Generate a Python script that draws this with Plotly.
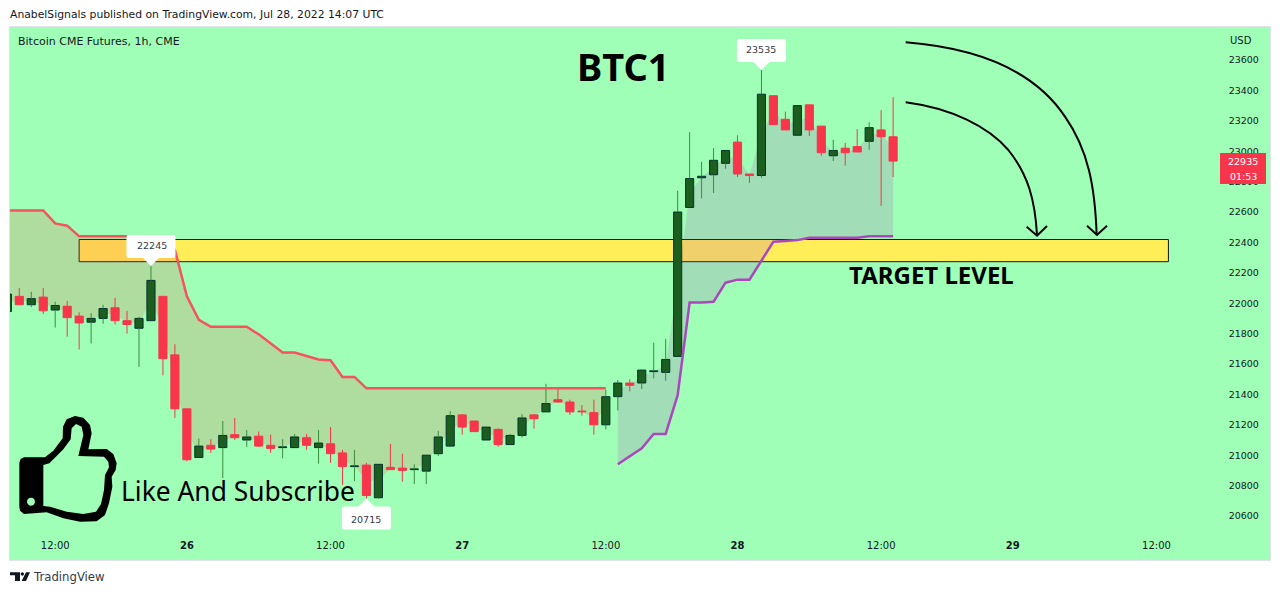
import numpy as np
import plotly.graph_objects as go

# ---------- data ----------
opens = [21945,22045,21990,22040,21955,21980,21915,21875,21900,21970,21885,21835,21885,22045,21660,21305,20985,21065,21050,21135,21100,21125,21065,21050,21050,21115,21050,21075,21015,20925,20935,20720,20920,20915,20905,20895,21010,21060,21265,21225,21100,21170,21070,21130,21265,21285,21365,21350,21290,21280,21200,21385,21475,21475,21550,21545,21650,22630,22825,22845,22920,23060,22850,22840,23365,23210,23105,23305,23165,22970,23020,23030,23065,23140,23095]
highs = [22085,22100,22075,22100,22010,22015,21940,21935,21990,22035,21950,21910,22245,22045,21730,21305,21110,21105,21225,21245,21165,21155,21135,21105,21140,21140,21165,21185,21035,21035,20950,20940,21075,21010,20940,21000,21160,21290,21270,21225,21185,21175,21140,21270,21270,21470,21435,21365,21330,21365,21430,21495,21500,21560,21740,21765,22740,23125,22930,23020,23005,23105,22850,23535,23365,23260,23300,23305,23165,23075,23055,23145,23190,23270,23355]
lows = [21930,21990,21975,21930,21840,21780,21695,21735,21865,21860,21800,21580,21885,21525,21245,20960,20985,21015,20850,21100,21055,21055,21015,20980,21050,21035,20945,20950,20805,20830,20715,20715,20905,20825,20810,20810,20995,21060,21135,21155,21100,21055,21070,21115,21175,21285,21345,21265,21260,21135,21170,21295,21420,21435,21505,21490,21650,22630,22690,22725,22885,22830,22790,22825,23175,23140,23105,23100,22970,22935,22905,22995,23010,22640,22830]
closes = [22060,21990,22030,21950,21985,21905,21870,21900,21965,21885,21860,21900,22150,21635,21305,20970,21060,21040,21130,21115,21120,21060,21045,21055,21120,21065,21080,21010,20925,20930,20735,20940,20905,20900,20910,21000,21120,21260,21185,21155,21185,21070,21130,21245,21240,21340,21350,21285,21285,21200,21385,21475,21460,21560,21555,21630,22600,22820,22835,22940,23005,22850,22840,23375,23175,23140,23300,23140,22990,23005,22990,22995,23155,23095,22935]
candle_x = list(range(-1, 74))

upper_line = [22610,22610,22610,22610,22525,22510,22440,22440,22440,22440,22440,22440,22440,22440,22350,22045,21890,21845,21845,21845,21845,21795,21735,21675,21675,21655,21630,21625,21515,21515,21440,21440,21440,21440,21440,21440,21440,21440,21440,21440,21440,21440,21440,21440,21440,21440,21440,21440,21440,21440,21440]
lower_line = [20940,20990,21045,21140,21140,21395,22005,22005,22010,22135,22155,22155,22280,22405,22410,22415,22430,22430,22430,22430,22430,22440,22440,22440]

y_ticks = list(range(20600, 23800, 200))
x_tick_pos = [3, 14, 26, 37, 49, 60, 72, 83, 95]
x_tick_text = ["12:00", "<b>26</b>", "12:00", "<b>27</b>", "12:00", "<b>28</b>", "12:00", "<b>29</b>", "12:00"]

target_low, target_high = 22273, 22419
target_from, target_to = 5, 96
last_price = 22935

# ---------- layout constants ----------
PL, PR, PT, PB = 10, 1270, 27, 560
XSTEP, X0 = 11.97, 19.3
PY60, PYSCALE = 23600, 0.152
xr = [(PL - X0) / XSTEP, (PR - X0) / XSTEP]
yr = [PY60 + (60 - PB) / PYSCALE, PY60 + (60 - PT) / PYSCALE]
BG = "#9fffb6"
GREEN, GREEN_EDGE, GREEN_WICK = "#1b5e20", "#05332a", "#388e3c"
RED = "#f7354b"
TEXT = "#131722"
FONT = "DejaVu Sans"
BIG = "Noto Sans"

o, h, l, c = map(np.array, (opens, highs, lows, closes))
mid = (o + c) / 2
idx = np.array(candle_x)
up = c >= o
top, bot = np.maximum(o, c), np.minimum(o, c)

fig = go.Figure()

# candle bodies
fig.add_trace(go.Bar(x=candle_x, y=top - bot, base=bot, width=0.68,
                     marker=dict(color=[GREEN if u else RED for u in up],
                                 line=dict(color=[GREEN_EDGE if u else RED for u in up], width=1)),
                     hoverinfo="skip"))


# wicks, only outside the bodies
def wick_xy(mask):
    xs, ys = [], []
    for i, t, b, hi, lo in zip(idx[mask], top[mask], bot[mask], h[mask], l[mask]):
        if hi > t:
            xs += [i, i, None]
            ys += [t, hi, None]
        if lo < b:
            xs += [i, i, None]
            ys += [b, lo, None]
    return xs, ys


for mask, colr in ((up, GREEN_WICK), (~up, RED)):
    wx, wy = wick_xy(mask)
    fig.add_trace(go.Scatter(x=wx, y=wy, mode="lines", line=dict(color=colr, width=1), hoverinfo="skip"))

m_up = idx <= 49
m_lo = idx >= 50
fig.add_trace(go.Scatter(x=idx[m_up], y=upper_line, mode="lines", line=dict(color="#f7525f", width=2.5), hoverinfo="skip"))
fig.add_trace(go.Scatter(x=idx[m_lo], y=lower_line, mode="lines", line=dict(color="#ab47bc", width=2.5), hoverinfo="skip"))


def band_path(xs, line, edge):
    pts = list(zip(xs, line)) + list(zip(xs[::-1], edge[::-1]))
    return "M" + " L".join(f"{a},{b}" for a, b in pts) + " Z"


def rel(px, py):
    return px - PL, PB - py


def poly(points, close=True):
    s = "M" + " L".join("%.2f,%.2f" % rel(x, y) for x, y in points)
    return s + (" Z" if close else "")


def zoomed(points, ox, oy):
    return [(ox + a / 3, oy + b / 3) for a, b in points]


def paper_shape(path, **kw):
    d = dict(type="path", path=path, xref="paper", yref="paper", xsizemode="pixel", ysizemode="pixel",
             xanchor=0, yanchor=0, layer="above")
    d.update(kw)
    return d


def bez(seq, ox, oy):
    pts = zoomed(seq, ox, oy)
    s = "M%.2f,%.2f" % rel(*pts[0])
    for i in range(1, len(pts), 3):
        s += " C" + " ".join("%.2f,%.2f" % rel(*p) for p in pts[i:i + 3])
    return s


def callout(ix, price, pointing_down=True):
    sgn = 1 if pointing_down else -1
    near, far, hw, r = 8 * sgn, 31 * sgn, 24.5, 2 * sgn
    path = (f"M0,0 L8,{near} L{hw - 2},{near} Q{hw},{near} {hw},{near + r} L{hw},{far - r} Q{hw},{far} {hw - 2},{far} "
            f"L{-hw + 2},{far} Q{-hw},{far} {-hw},{far - r} L{-hw},{near + r} Q{-hw},{near} {-hw + 2},{near} L-8,{near} Z")
    return dict(type="path", path=path, xref="x", yref="y", xsizemode="pixel", ysizemode="pixel",
                xanchor=ix, yanchor=price, fillcolor="white", line=dict(width=0), layer="above")


shapes = [
    dict(type="rect", x0=target_from, x1=target_to, y0=target_low, y1=target_high, xref="x", yref="y",
         fillcolor="#ffee58", line=dict(color="#131722", width=1), layer="below"),
    dict(type="path", path=band_path(list(idx[m_up]), upper_line, list(mid[m_up])), xref="x", yref="y", layer="below",
         fillcolor="rgba(244,67,54,0.18)", line=dict(width=0)),
    dict(type="path", path=band_path(list(idx[m_lo]), lower_line, list(mid[m_lo])), xref="x", yref="y", layer="below",
         fillcolor="rgba(171,71,188,0.18)", line=dict(width=0)),
    callout(11, 22245), callout(62, 23535), callout(29, 20715, pointing_down=False),
]

# price tag
shapes.append(paper_shape(poly([(1220, 153), (1266, 153), (1266, 184), (1220, 184)]), fillcolor=RED, line=dict(width=0)))

# hand-drawn arrows
ARROW = dict(color="black", width=2)
shapes.append(paper_shape(bez([(32, 37), (220, 52), (410, 110), (510, 260), (580, 360), (600, 470), (605, 615)], 895, 30), line=ARROW))
shapes.append(paper_shape(bez([(32, 217), (170, 235), (280, 290), (340, 360), (400, 435), (420, 510), (426, 615)], 895, 30), line=ARROW))
shapes.append(paper_shape(poly(zoomed([(395, 590), (426, 617), (456, 588)], 895, 30), close=False), line=ARROW))
shapes.append(paper_shape(poly(zoomed([(576, 587), (606, 615), (636, 587)], 895, 30), close=False), line=ARROW))

# thumb icon
outer = [(58, 248), (62, 237), (72, 232), (135, 232), (160, 212), (188, 175), (189, 140), (200, 118), (225, 108),
         (250, 113), (270, 135), (275, 160), (265, 208), (320, 207), (340, 222), (350, 250), (347, 270), (335, 290),
         (337, 320), (327, 370), (315, 405), (290, 424), (240, 425), (190, 415), (140, 397), (72, 402), (60, 392), (58, 380)]
inner = [(130, 255), (148, 250), (190, 208), (212, 178), (215, 145), (228, 132), (245, 140), (250, 165), (235, 228),
         (312, 230), (325, 245), (327, 262), (315, 285), (312, 330), (303, 372), (288, 395), (250, 402), (200, 395),
         (150, 380), (130, 378)]
hole = [(93 + 12 * np.cos(t), 365 + 12 * np.sin(t)) for t in np.linspace(0, 2 * np.pi, 16)[:-1]]
shapes.append(paper_shape(" ".join(poly(zoomed(p, 0, 380)) for p in (outer, inner, hole)), fillcolor="black",
                          fillrule="evenodd", line=dict(width=0)))

# TradingView logo
logo_a = [(30, 52), (60, 52), (60, 78), (45, 78), (45, 61), (30, 61)]
logo_b = [(78, 52), (90, 52), (78, 78), (65, 78)]
logo_c = [(67 + 5 * np.cos(t), 57 + 5 * np.sin(t)) for t in np.linspace(0, 2 * np.pi, 12)[:-1]]
for p in (logo_a, logo_b, logo_c):
    shapes.append(paper_shape(poly(zoomed(p, 0, 555)), fillcolor="#131722", line=dict(width=0)))


def label(px, py, text, size=10, color=TEXT, family=FONT, xanchor="left", **kw):
    return dict(x=(px - PL) / (PR - PL), y=(PB - py) / (PB - PT), xref="paper", yref="paper", text=text, showarrow=False,
                xanchor=xanchor, yanchor="middle", font=dict(size=size, color=color, family=family),
                borderpad=0, borderwidth=0, **kw)


annotations = [
    label(10, 14.5, "AnabelSignals published on TradingView.com, Jul 28, 2022 14:07 UTC", 10.8, "#131722"),
    label(18, 41.5, "Bitcoin CME Futures, 1h, CME", 11, "#131722"),
    label(1230, 41, "USD", 10, "#131722"),
    label(33, 577, "TradingView", 11.7, "#363a45"),
    label(623, 66, "<b>BTC1</b>", 38, "black", BIG, "center"),
    label(931.5, 274.5, "<b>TARGET LEVEL</b>", 24, "black", BIG, "center"),
    label(237.5, 491, "Like And Subscribe", 26.4, "black", BIG, "center"),
    label(1243, 161, "22935", 9.5, "white", FONT, "center"),
    label(1243, 176, "01:53", 9.5, "white", FONT, "center"),
    label(151.7, 245, "22245", 9.5, "#363a45", FONT, "center"),
    label(761.3, 49.5, "23535", 9.5, "#363a45", FONT, "center"),
    label(366.3, 519, "20715", 9.5, "#363a45", FONT, "center"),
]

fig.update_layout(
    width=1280, height=595, showlegend=False, paper_bgcolor="white", plot_bgcolor=BG,
    margin=dict(l=PL, r=1280 - PR, t=PT, b=595 - PB, pad=0),
    xaxis=dict(range=xr, tickmode="array", tickvals=x_tick_pos, ticktext=x_tick_text, showgrid=False, zeroline=False,
               ticklabelposition="inside", ticks="", ticklabelstandoff=8,
               tickfont=dict(family=FONT, size=10, color=TEXT), showline=True, mirror=True, linecolor="#e0e3eb", linewidth=1,
               automargin=False),
    yaxis=dict(range=yr, side="right", tickmode="array", tickvals=y_ticks, ticktext=[str(v) for v in y_ticks], showgrid=False,
               zeroline=False, ticklabelposition="inside", ticks="", ticklabelstandoff=10,
               tickfont=dict(family=FONT, size=9.5, color=TEXT), showline=True, mirror=True, linecolor="#e0e3eb", linewidth=1,
               automargin=False),
    shapes=shapes, annotations=annotations,
)

fig.write_html("out.html", config=dict(displayModeBar=False),
               post_script="document.body.style.margin='0';document.documentElement.style.overflow='hidden';")
